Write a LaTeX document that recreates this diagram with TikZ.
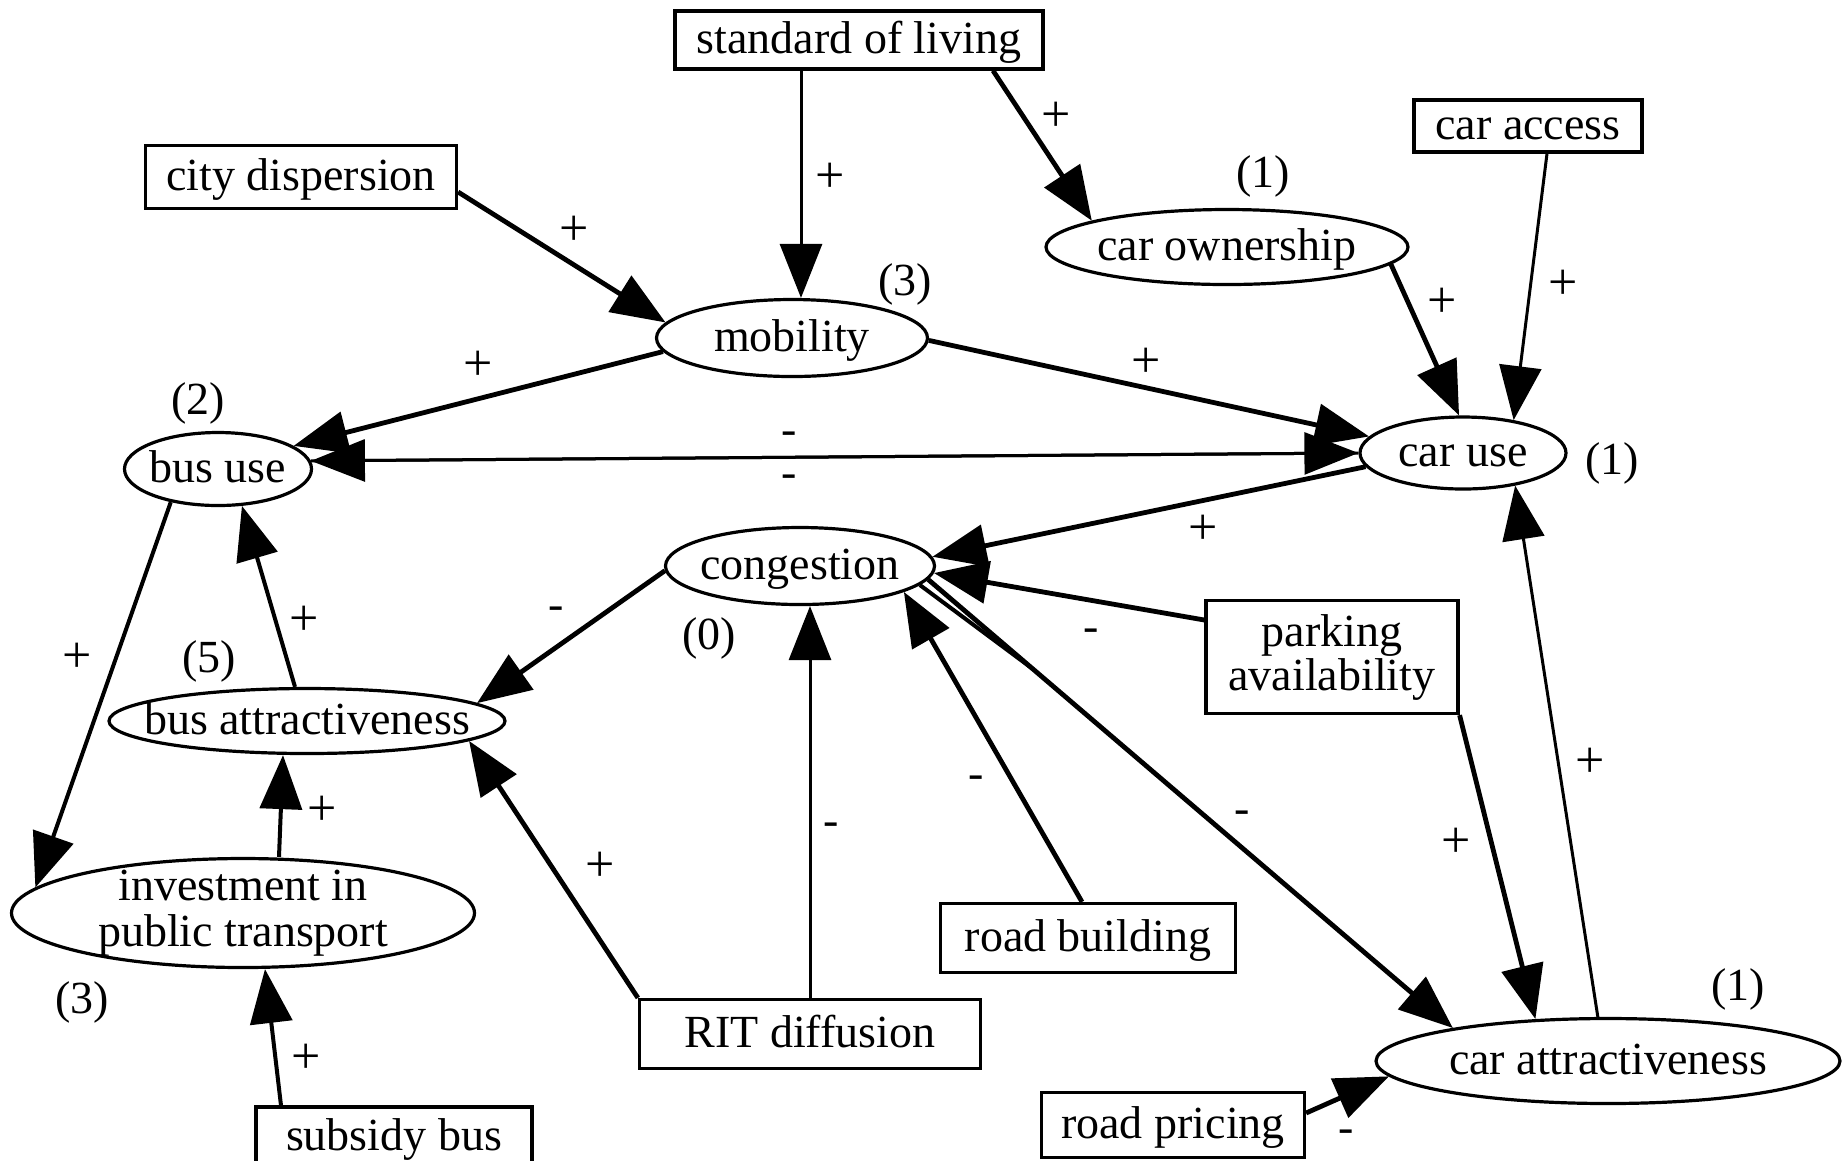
\documentclass[tikz,border=0pt]{standalone}
\usepackage{fontspec}
\setmainfont{Liberation Serif}
\usetikzlibrary{shapes.geometric,arrows.meta,calc}
\newcommand{\ctxt}[1]{\makebox[0pt]{#1}}
\tikzset{
  box/.style={draw, rectangle, line width=0.8pt, inner sep=0pt},
  sl/.style={text height=6.6pt, text depth=0pt},
  ell/.style={draw, ellipse, line width=0.8pt, inner sep=0pt, text height=6.6pt, text depth=0pt},
  lbl/.style={inner sep=0pt},
  plus/.style={inner sep=0pt, font=\fontsize{13}{13}\selectfont},
  arr/.style={-{Triangle[length=13.5pt,width=10.5pt]}, line width=1.2pt},
  arrmid/.style={-{Triangle[length=13.5pt,width=10.5pt]}, line width=1pt},
  arrthin/.style={-{Triangle[length=13.5pt,width=10.5pt]}, line width=0.75pt},
}
\begin{document}
\begin{tikzpicture}[x=0.25pt,y=-0.25pt,font=\fontsize{11.5}{11.5}\selectfont]
\useasboundingbox (0,0) rectangle (1842,1160);

% nodes
\node[box,sl,minimum width=92pt,minimum height=14.5pt] (sol) at (859,40) {standard of living};
\node[box,sl,minimum width=77.75pt,minimum height=15.75pt] (city) at (301,177) {city dispersion};
\node[box,sl,minimum width=57pt,minimum height=13pt] (cacc) at (1528,126) {car access};
\node[ell,minimum width=90.5pt,minimum height=18.75pt] (cown) at (1227,247) {\ctxt{car ownership}};
\node[ell,minimum width=67.75pt,minimum height=19.25pt] (mob) at (792,338) {\ctxt{mobility}};
\node[ell,minimum width=46.75pt,minimum height=18.25pt] (bus) at (218,469) {\ctxt{bus use}};
\node[ell,minimum width=51.5pt,minimum height=18pt] (car) at (1463,453) {\ctxt{car use}};
\node[ell,minimum width=67.25pt,minimum height=19.25pt] (cong) at (800,566) {\ctxt{congestion}};
\node[box,align=center,minimum width=63pt,minimum height=28.25pt,font=\fontsize{11.5}{11}\selectfont] (park) at (1332,657) {parking\\availability};
\node[ell,minimum width=99pt,minimum height=16.25pt] (batt) at (307,721) {\ctxt{bus attractiveness}};
\node[draw,ellipse,line width=0.8pt,align=center,inner xsep=0pt,inner ysep=-1.6pt,minimum width=115.75pt,minimum height=27.25pt] (inv) at (243,913) {investment in\\public transport};
\node[box,sl,minimum width=69pt,minimum height=15pt] (sub) at (394,1137) {subsidy bus};
\node[box,sl,minimum width=85.25pt,minimum height=17.25pt] (rit) at (810,1034) {RIT diffusion};
\node[box,sl,minimum width=73.75pt,minimum height=17.25pt] (rb) at (1088,938) {road building};
\node[box,sl,minimum width=65.75pt,minimum height=16.25pt] (rp) at (1173,1125) {road pricing};
\node[ell,minimum width=116pt,minimum height=21.25pt] (catt) at (1608,1061) {\ctxt{car attractiveness}};

% connectors
\draw[arrthin] ([xshift=-14.5pt]sol.south) -- ([xshift=2.25pt]mob.north);
\draw[arr] ([xshift=33.5pt]sol.south) -- (cown.169);
\draw[arr] ([yshift=-3.75pt]city.east) -- (mob.173);
\draw[arr] (mob.186) -- (bus.17);
\draw[arr] (mob.359) -- (car.170);
\draw[arr] (cown.354) -- (car.96);
\draw[arrthin] ([xshift=4.75pt]cacc.south) -- (car.33);
\draw[arrthin] (car.180) -- (bus.5);
\draw[arrthin] (bus.5) -- (car.180);
\draw[arr] (car.188) -- (cong.4);
\draw[arr] ([yshift=9.25pt]park.west) -- (cong.357);
\draw[arr] (park.south east) -- (catt.150);
\draw[arrthin] (catt.103) -- (car.328);
\draw[arr] (cong.354) -- (catt.168);
\draw[line width=1pt] (cong.351) -- ($(cong.354)!0.2!(catt.168)$);
\draw[arr] ([xshift=-1.5pt]rb.north) -- (cong.346);
\draw[arrthin] (rit.north) -- (rit.north |- cong.south);
\draw[arr] (rit.north west) -- (batt.353);
\draw[arr] (cong.182) -- (batt.6);
\draw[arrmid] ([xshift=-3pt]batt.north) -- (bus.303);
\draw[arrmid] (bus.215) -- (inv.173);
\draw[arrmid] ([xshift=9pt]inv.north) -- ([xshift=-6pt]batt.south);
\draw[arrmid] ([xshift=-28.25pt]sub.north) -- ([xshift=5.5pt]inv.south);
\draw[arr] ([yshift=3pt]rp.east) -- (catt.184);

% sign labels
\node[plus] (s1) at (830,178) {+};
\node[plus] (s2) at (1056,117) {+};
\node[plus] (s3) at (574,231) {+};
\node[plus] (s4) at (478,366) {+};
\node[plus] (s5) at (1146,363) {+};
\node[plus] (s6) at (1442,303) {+};
\node[plus] (s7) at (1563,285) {+};
\node[lbl] (s8) at (789,438) {-};
\node[lbl] (s9) at (789,481) {-};
\node[plus] (s10) at (1203,530) {+};
\node[lbl] (s11) at (1091,635) {-};
\node[plus] (s12) at (1456,843) {+};
\node[plus] (s13) at (1590,763) {+};
\node[lbl] (s14) at (1242,817) {-};
\node[lbl] (s15) at (976,782) {-};
\node[lbl] (s16) at (831,829) {-};
\node[plus] (s17) at (600,867) {+};
\node[lbl] (s18) at (556,613) {-};
\node[plus] (s19) at (304,621) {+};
\node[plus] (s20) at (77,658) {+};
\node[plus] (s21) at (322,811) {+};
\node[plus] (s22) at (306,1059) {+};
\node[lbl] (s23) at (1346,1136) {-};

% number labels
\node[lbl] (n1) at (1263,176) {(1)};
\node[lbl] (n2) at (905,284) {(3)};
\node[lbl] (n3) at (198,403) {(2)};
\node[lbl] (n4) at (1612,463) {(1)};
\node[lbl] (n5) at (709,638) {(0)};
\node[lbl] (n6) at (209,661) {(5)};
\node[lbl] (n7) at (82,1002) {(3)};
\node[lbl] (n8) at (1738,989) {(1)};
\end{tikzpicture}
\end{document}
